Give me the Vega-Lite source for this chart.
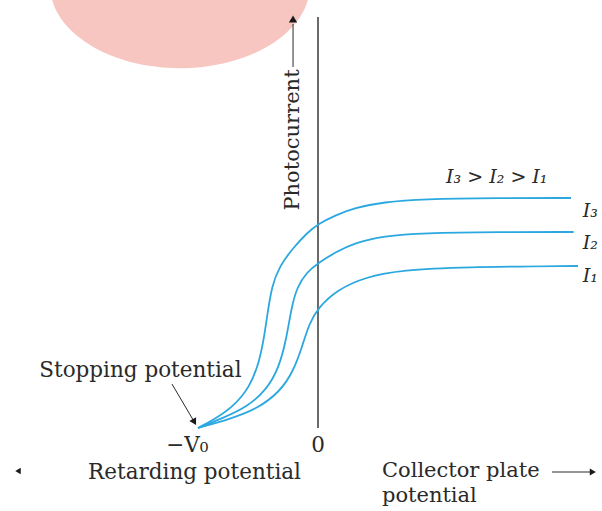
{
  "$schema": "https://vega.github.io/schema/vega-lite/v6.json",
  "width": 602,
  "height": 511,
  "padding": 0,
  "autosize": {"type": "none"},
  "background": "white",
  "view": {"stroke": null},
  "config": {
    "text": {"font": "DejaVu Serif", "color": "#2a2a2a"}
  },
  "datasets": {
    "curves": [
      {"series": "I3", "v": -1.0, "i": 0.0},
      {"series": "I3", "v": -0.875, "i": 0.08},
      {"series": "I3", "v": -0.708, "i": 0.21},
      {"series": "I3", "v": -0.567, "i": 0.41},
      {"series": "I3", "v": -0.49, "i": 0.66},
      {"series": "I3", "v": -0.45, "i": 0.9},
      {"series": "I3", "v": -0.42, "i": 1.15},
      {"series": "I3", "v": -0.385, "i": 1.42},
      {"series": "I3", "v": -0.32, "i": 1.62},
      {"series": "I3", "v": -0.208, "i": 1.8},
      {"series": "I3", "v": -0.092, "i": 1.95},
      {"series": "I3", "v": 0.0, "i": 2.04},
      {"series": "I3", "v": 0.15, "i": 2.13},
      {"series": "I3", "v": 0.3, "i": 2.2},
      {"series": "I3", "v": 0.55, "i": 2.26},
      {"series": "I3", "v": 0.867, "i": 2.29},
      {"series": "I3", "v": 1.508, "i": 2.3},
      {"series": "I3", "v": 2.108, "i": 2.3},
      {"series": "I2", "v": -1.0, "i": 0.0},
      {"series": "I2", "v": -0.792, "i": 0.1},
      {"series": "I2", "v": -0.592, "i": 0.21},
      {"series": "I2", "v": -0.43, "i": 0.38},
      {"series": "I2", "v": -0.325, "i": 0.6},
      {"series": "I2", "v": -0.262, "i": 0.9},
      {"series": "I2", "v": -0.222, "i": 1.2},
      {"series": "I2", "v": -0.175, "i": 1.41},
      {"series": "I2", "v": -0.092, "i": 1.56},
      {"series": "I2", "v": 0.0, "i": 1.65},
      {"series": "I2", "v": 0.15, "i": 1.76},
      {"series": "I2", "v": 0.3, "i": 1.85},
      {"series": "I2", "v": 0.55, "i": 1.92},
      {"series": "I2", "v": 0.867, "i": 1.95},
      {"series": "I2", "v": 1.508, "i": 1.96},
      {"series": "I2", "v": 2.13, "i": 1.96},
      {"series": "I1", "v": -1.0, "i": 0.0},
      {"series": "I1", "v": -0.733, "i": 0.09},
      {"series": "I1", "v": -0.508, "i": 0.19},
      {"series": "I1", "v": -0.32, "i": 0.36},
      {"series": "I1", "v": -0.208, "i": 0.56},
      {"series": "I1", "v": -0.13, "i": 0.82},
      {"series": "I1", "v": -0.075, "i": 1.04},
      {"series": "I1", "v": 0.0, "i": 1.2},
      {"series": "I1", "v": 0.158, "i": 1.38},
      {"series": "I1", "v": 0.392, "i": 1.51},
      {"series": "I1", "v": 0.708, "i": 1.58},
      {"series": "I1", "v": 1.192, "i": 1.61},
      {"series": "I1", "v": 2.167, "i": 1.62}
    ],
    "labels": [
      {"v": -1.48, "i": 0.51, "text": "Stopping potential"},
      {"v": -1.09, "i": -0.24, "text": "−V₀"},
      {"v": 0.0, "i": -0.24, "text": "0"},
      {"v": -1.029, "i": -0.51, "text": "Retarding potential"}
    ],
    "leftLabels": [
      {"v": 0.533, "i": -0.49, "text": "Collector plate"},
      {"v": 0.533, "i": -0.74, "text": "potential"}
    ],
    "seriesLabels": [
      {"v": 2.27, "i": 2.17, "text": "I₃"},
      {"v": 2.27, "i": 1.85, "text": "I₂"},
      {"v": 2.27, "i": 1.52, "text": "I₁"},
      {"v": 1.49, "i": 2.51, "text": "I₃ > I₂ > I₁"}
    ]
  },
  "encoding": {
    "x": {"field": "v", "type": "quantitative", "scale": {"domain": [-2.65, 2.3667], "nice": false, "zero": false}, "axis": null},
    "y": {"field": "i", "type": "quantitative", "scale": {"domain": [-0.83, 4.28], "nice": false, "zero": false}, "axis": null}
  },
  "layer": [
    {
      "data": {"values": [{"v": -1.15, "i": 4.43}]},
      "mark": {
        "type": "point",
        "filled": true,
        "shape": "M -1 0 A 1 0.64 0 1 0 1 0 A 1 0.64 0 1 0 -1 0 Z",
        "size": 67600,
        "color": "#F7C6C1",
        "opacity": 1
      }
    },
    {
      "data": {"values": [{"v": 0, "i": 0, "i2": 4.11}]},
      "mark": {"type": "rule", "color": "#1a1a1a", "strokeWidth": 1.3},
      "encoding": {"y2": {"field": "i2"}}
    },
    {
      "data": {"values": [{"v": -0.208, "i": 3.61, "i2": 4.04}]},
      "mark": {"type": "rule", "color": "#2a2a2a", "strokeWidth": 1},
      "encoding": {"y2": {"field": "i2"}}
    },
    {
      "data": {"values": [{"v": -0.208, "i": 4.09}]},
      "mark": {"type": "point", "shape": "triangle-up", "filled": true, "size": 70, "color": "#1a1a1a", "opacity": 1}
    },
    {
      "data": {"values": [{"v": -0.208, "i": 2.88, "text": "Photocurrent"}]},
      "mark": {"type": "text", "angle": 270, "fontSize": 21, "align": "center", "baseline": "middle"},
      "encoding": {"text": {"field": "text"}}
    },
    {
      "data": {"name": "curves"},
      "mark": {"type": "line", "interpolate": "basis", "color": "#2BA8E0", "strokeWidth": 1.8},
      "encoding": {"detail": {"field": "series"}}
    },
    {
      "data": {"name": "labels"},
      "mark": {"type": "text", "fontSize": 21.5, "align": "center", "baseline": "alphabetic"},
      "encoding": {"text": {"field": "text"}}
    },
    {
      "data": {"name": "leftLabels"},
      "mark": {"type": "text", "fontSize": 21, "align": "left", "baseline": "alphabetic"},
      "encoding": {"text": {"field": "text"}}
    },
    {
      "data": {"name": "seriesLabels"},
      "mark": {"type": "text", "fontSize": 19, "fontStyle": "italic", "align": "center", "baseline": "middle"},
      "encoding": {"text": {"field": "text"}}
    },
    {
      "data": {"values": [{"v": -1.217, "i": 0.44, "v2": -1.04, "i2": 0.08}]},
      "mark": {"type": "rule", "color": "#2a2a2a", "strokeWidth": 1},
      "encoding": {"x2": {"field": "v2"}, "y2": {"field": "i2"}}
    },
    {
      "data": {"values": [{"v": -1.03, "i": 0.06}]},
      "mark": {"type": "point", "shape": "triangle-up", "angle": 150, "filled": true, "size": 60, "color": "#1a1a1a", "opacity": 1}
    },
    {
      "data": {"values": [{"v": 1.95, "i": -0.44, "v2": 2.27}]},
      "mark": {"type": "rule", "color": "#2a2a2a", "strokeWidth": 1.2},
      "encoding": {"x2": {"field": "v2"}}
    },
    {
      "data": {"values": [{"v": 2.29, "i": -0.44}]},
      "mark": {"type": "point", "shape": "triangle-right", "filled": true, "size": 50, "color": "#1a1a1a", "opacity": 1}
    },
    {
      "data": {"values": [{"v": -2.5, "i": -0.43}]},
      "mark": {"type": "point", "shape": "triangle-left", "filled": true, "size": 40, "color": "#1a1a1a", "opacity": 1}
    }
  ]
}
